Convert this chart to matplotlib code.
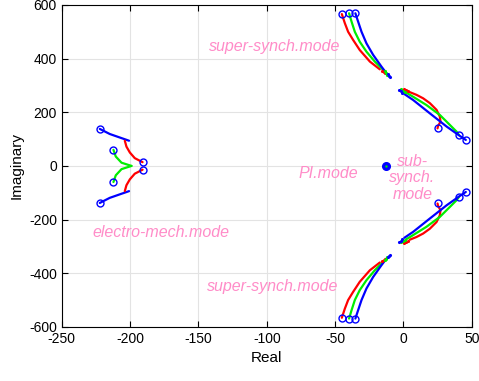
import matplotlib
matplotlib.use('Agg')
import matplotlib.pyplot as plt
import numpy as np

plt.rcParams['font.family'] = ['Liberation Sans', 'DejaVu Sans']
plt.rcParams['axes.unicode_minus'] = False

# ---- branches (upper half; lower half is the conjugate) ----
# electro-mechanical mode
em_blue_x = [-222.2, -214.9, -207.6, -200.8]
em_blue_y = [138, 119, 106, 94]
em_red_x = [-203.9, -202.7, -200.2, -196.6, -190.9]
em_red_y = [94, 72, 50, 29, 14]
em_green_x = [-212.2, -210.5, -206.3, -199.0]
em_green_y = [60, 35, 12, 0]

# super-synchronous mode
ss_red_x = [-45.1, -42.9, -40.5, -36.9, -32.0, -24.6, -17.3]
ss_red_y = [566, 532, 500, 470, 432, 389, 360]
ss_red_tail_x = [-16.0, -14.6, -13.2]
ss_red_tail_y = [355, 350, 346]
ss_green_x = [-39.8, -38.0, -35.6, -32.0, -27.1, -21.0, -14.9]
ss_green_y = [569, 538, 500, 463, 426, 389, 358]
ss_green_tail_x = [-13.6, -12.6, -11.7]
ss_green_tail_y = [352, 346, 340]
ss_blue_x = [-35.2, -33.2, -30.7, -27.1, -22.2, -16.1, -12.4]
ss_blue_y = [569, 538, 500, 457, 414, 370, 345]
ss_blue_tail_x = [-11.6, -10.8, -10.0]
ss_blue_tail_y = [341, 336, 331]

# sub-synchronous mode
sub_red_x = [4.6, 9.5, 14.4, 19.3, 24.2, 26.6, 27.1, 25.3, 24.9]
sub_red_y = [275, 265, 252, 234, 209, 184, 165, 149, 140]
sub_red_tail_x = [0.2, 1.8, 3.3]
sub_red_tail_y = [288, 283, 279]
sub_green_x = [1.8, 7.0, 16.8, 26.6, 33.9, 38.8, 40.5]
sub_green_y = [274, 258, 227, 190, 153, 128, 116]
sub_green_tail_x = [-1.5, -0.3, 0.9]
sub_green_tail_y = [285, 281, 277]
sub_blue_x = [0.6, 7.0, 19.3, 31.5, 41.2, 45.6]
sub_blue_y = [268, 246, 196, 147, 112, 97]
sub_blue_tail_x = [-3.0, -2.0, -1.0]
sub_blue_tail_y = [282, 278, 273]

# PI mode
pi_x = [-13.0]
pi_y = [0]

# circle markers (upper half)
circ_x = [-222.2, -190.9, -212.2, -45.1, -39.8, -35.2, 24.9, 40.5, 45.6]
circ_y = [138, 14, 60, 566, 569, 569, 140, 116, 97]

GREEN = '#00ee00'

fig = plt.figure(figsize=(4.79, 3.81), dpi=100)
ax = fig.add_axes([0.129, 0.142, 0.856, 0.845])

def branch(x, y, c):
    x = np.array(x); y = np.array(y)
    ax.plot(x, y, '-', color=c, lw=1.6, solid_capstyle='round')
    ax.plot(x, -y, '-', color=c, lw=1.6, solid_capstyle='round')

def tail(x, y, c):
    x = np.array(x); y = np.array(y)
    ax.plot(x, y, '.', color=c, ms=2.5)
    ax.plot(x, -y, '.', color=c, ms=2.5)

branch(em_blue_x, em_blue_y, 'b')
branch(em_red_x, em_red_y, 'r')
branch(em_green_x, em_green_y, GREEN)
branch(ss_red_x, ss_red_y, 'r')
branch(ss_green_x, ss_green_y, GREEN)
branch(ss_blue_x, ss_blue_y, 'b')
tail(ss_red_tail_x, ss_red_tail_y, 'r')
tail(ss_green_tail_x, ss_green_tail_y, GREEN)
tail(ss_blue_tail_x, ss_blue_tail_y, 'b')
branch(sub_red_x, sub_red_y, 'r')
branch(sub_green_x, sub_green_y, GREEN)
branch(sub_blue_x, sub_blue_y, 'b')
tail(sub_red_tail_x, sub_red_tail_y, 'r')
tail(sub_green_tail_x, sub_green_tail_y, GREEN)
tail(sub_blue_tail_x, sub_blue_tail_y, 'b')

cx = np.array(circ_x); cy = np.array(circ_y)
ax.plot(np.r_[cx, cx], np.r_[cy, -cy], 'o', mfc='none', mec='b', ms=5, mew=1.0)
ax.plot(pi_x, pi_y, 'o', color='b', ms=5.5)
ax.plot(pi_x, pi_y, '.', color=GREEN, ms=1.5)

pink = '#ff8cc8'
tk = dict(color=pink, fontsize=11.5, style='italic')
ax.text(-142.5, 444, 'super-synch.mode', va='center', ha='left', **tk)
ax.text(-144, -448, 'super-synch.mode', va='center', ha='left', **tk)
ax.text(-227.3, -250, 'electro-mech.mode', va='center', ha='left', **tk)
ax.text(-76.6, -30, 'PI.mode', va='center', ha='left', **tk)
ax.text(6.5, -45, 'sub-\nsynch.\nmode', va='center', ha='center', linespacing=1.15, **tk)

ax.set_xlim(-250, 50)
ax.set_ylim(-600, 600)
ax.set_xticks(np.arange(-250, 51, 50))
ax.set_yticks(np.arange(-600, 601, 200))
ax.grid(True, color='#e3e3e3', lw=0.8)
ax.set_axisbelow(True)
ax.tick_params(direction='in', top=True, right=True, labelsize=10, length=4)
for s in ax.spines.values():
    s.set_linewidth(0.8)
ax.set_xlabel('Real', fontsize=11)
ax.set_ylabel('Imaginary', fontsize=11)

fig.savefig('out.png', dpi=100)
